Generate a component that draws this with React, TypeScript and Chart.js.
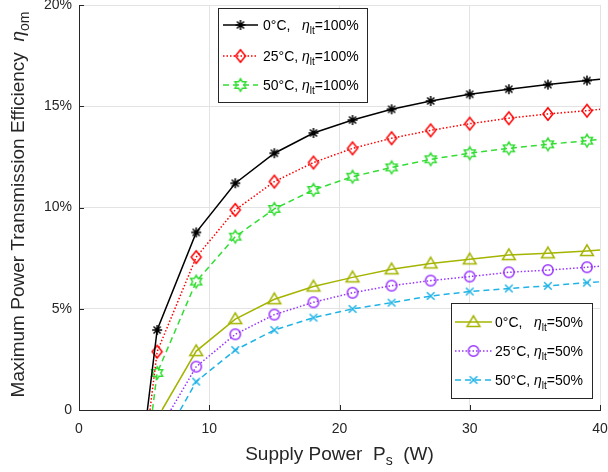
import React, { useEffect, useRef } from 'react';
import { Chart, registerables } from 'chart.js';

Chart.register(...registerables);

const FONT = '"Liberation Sans", Arial, Helvetica, sans-serif';
const INK = '#262626';

// Supply power (W) where the markers sit
const supplyPower = [6, 9, 12, 15, 18, 21, 24, 27, 30, 33, 36, 39];
const xTicks = [0, 10, 20, 30, 40];
const yTicks = [0, 5, 10, 15, 20];
const yTickLabels = ['0', '5%', '10%', '15%', '20%'];

// Maximum power transmission efficiency (%) at the marker supply powers (null = below zero)
const eff0C100 = [3.95, 8.77, 11.2, 12.68, 13.68, 14.32, 14.85, 15.26, 15.59, 15.84, 16.07, 16.27];
const eff25C100 = [2.88, 7.55, 9.88, 11.28, 12.22, 12.92, 13.42, 13.81, 14.14, 14.41, 14.62, 14.78];
const eff50C100 = [1.83, 6.34, 8.56, 9.93, 10.87, 11.52, 11.98, 12.38, 12.68, 12.92, 13.12, 13.3];
const eff0C50 = [null, 2.91, 4.49, 5.47, 6.1, 6.55, 6.95, 7.24, 7.44, 7.65, 7.74, 7.85];
const eff25C50 = [null, 2.14, 3.74, 4.71, 5.32, 5.79, 6.14, 6.39, 6.59, 6.8, 6.91, 7.05];
const eff50C50 = [null, 1.4, 2.96, 3.95, 4.56, 4.99, 5.3, 5.63, 5.85, 6.0, 6.13, 6.29];

// Supply power (W) at which each efficiency curve reaches zero
const cutoff0C100 = 5.25;
const cutoff25C100 = 5.45;
const cutoff50C100 = 5.64;
const cutoff0C50 = 6.37;
const cutoff25C50 = 7.05;
const cutoff50C50 = 7.77;

// Efficiency (%) at the right edge, 40 W
const end0C100 = 16.33;
const end25C100 = 14.85;
const end50C100 = 13.37;
const end0C50 = 7.9;
const end25C50 = 7.1;
const end50C50 = 6.33;

const tempLabels = ['0°C,   ', '25°C, ', '50°C, '];
const etaLabels = ['=100%', '=50%'];

type Kind = 'asterisk' | 'diamond' | 'hexagram' | 'triangle' | 'circle' | 'x';

function makeMarker(kind: Kind, color: string): HTMLCanvasElement {
  const c = document.createElement('canvas');
  c.width = 18;
  c.height = 18;
  const g = c.getContext('2d')!;
  g.translate(9, 9);
  g.strokeStyle = color;
  g.lineWidth = 1.5;
  g.beginPath();
  if (kind === 'asterisk') {
    const r = 5;
    for (let k = 0; k < 4; k++) {
      const a = (k * Math.PI) / 4;
      g.moveTo(-r * Math.cos(a), -r * Math.sin(a));
      g.lineTo(r * Math.cos(a), r * Math.sin(a));
    }
  } else if (kind === 'diamond') {
    g.moveTo(0, -6.3);
    g.lineTo(5, 0);
    g.lineTo(0, 6.3);
    g.lineTo(-5, 0);
    g.closePath();
  } else if (kind === 'hexagram') {
    const R = 6.3;
    const r = R / Math.sqrt(3);
    for (let k = 0; k < 12; k++) {
      const a = -Math.PI / 2 + (k * Math.PI) / 6;
      const rr = k % 2 === 0 ? R : r;
      const px = rr * Math.cos(a);
      const py = rr * Math.sin(a);
      if (k === 0) g.moveTo(px, py);
      else g.lineTo(px, py);
    }
    g.closePath();
  } else if (kind === 'triangle') {
    g.moveTo(0, -6.2);
    g.lineTo(6.4, 4.6);
    g.lineTo(-6.4, 4.6);
    g.closePath();
  } else if (kind === 'circle') {
    g.arc(0, 0, 5.2, 0, Math.PI * 2);
  } else {
    const r = 3.8;
    g.moveTo(-r, -r);
    g.lineTo(r, r);
    g.moveTo(r, -r);
    g.lineTo(-r, r);
  }
  g.stroke();
  return c;
}

function buildPoints(cut: number, vals: (number | null)[], end: number) {
  const pts: { x: number; y: number }[] = [{ x: cut, y: 0 }];
  vals.forEach((v, i) => {
    if (v !== null) pts.push({ x: supplyPower[i], y: v });
  });
  pts.push({ x: 40, y: end });
  return pts;
}

type Part = { t: string; font: string; dy?: number };

function measureRich(ctx: CanvasRenderingContext2D, parts: Part[]) {
  let w = 0;
  for (const p of parts) {
    ctx.font = p.font;
    w += ctx.measureText(p.t).width;
  }
  return w;
}

function drawRich(ctx: CanvasRenderingContext2D, parts: Part[], x: number, y: number) {
  let cx = x;
  for (const p of parts) {
    ctx.font = p.font;
    ctx.fillText(p.t, cx, y + (p.dy || 0));
    cx += ctx.measureText(p.t).width;
  }
}

export default function App() {
  const ref = useRef<HTMLCanvasElement>(null);

  useEffect(() => {
    const series = [
      { label: 0, eta: 0, color: '#000000', dash: [] as number[], kind: 'asterisk' as Kind, data: buildPoints(cutoff0C100, eff0C100, end0C100) },
      { label: 1, eta: 0, color: '#ff0000', dash: [1.5, 2], kind: 'diamond' as Kind, data: buildPoints(cutoff25C100, eff25C100, end25C100) },
      { label: 2, eta: 0, color: '#33dd33', dash: [6, 4], kind: 'hexagram' as Kind, data: buildPoints(cutoff50C100, eff50C100, end50C100) },
      { label: 0, eta: 1, color: '#a4b400', dash: [] as number[], kind: 'triangle' as Kind, data: buildPoints(cutoff0C50, eff0C50, end0C50) },
      { label: 1, eta: 1, color: '#9933ff', dash: [1.5, 2], kind: 'circle' as Kind, data: buildPoints(cutoff25C50, eff25C50, end25C50) },
      { label: 2, eta: 1, color: '#1fb3e6', dash: [6, 4], kind: 'x' as Kind, data: buildPoints(cutoff50C50, eff50C50, end50C50) },
    ].map((s) => ({ ...s, img: makeMarker(s.kind, s.color) }));

    const legendBoxes = [
      { x0: 218, y0: 8, x1: 367, y1: 102, rows: [25, 56, 85], lx0: 223, lx1: 258, tx: 263, items: [0, 1, 2] },
      { x0: 451, y0: 303, x1: 592, y1: 398, rows: [322, 351, 380], lx0: 455, lx1: 492, tx: 495, items: [3, 4, 5] },
    ];

    const overlay = {
      id: 'overlay',
      afterDraw(chart: any) {
        const ctx: CanvasRenderingContext2D = chart.ctx;
        const { left, right, top, bottom } = chart.chartArea;
        const xs = chart.scales.x;
        const ys = chart.scales.y;
        ctx.save();
        // inward tick marks
        ctx.strokeStyle = INK;
        ctx.lineWidth = 1;
        ctx.setLineDash([]);
        for (const v of xTicks) {
          const px = Math.round(xs.getPixelForValue(v)) + 0.5;
          ctx.beginPath();
          ctx.moveTo(px, bottom);
          ctx.lineTo(px, bottom - 5);
          ctx.stroke();
        }
        for (const v of yTicks) {
          const py = Math.round(ys.getPixelForValue(v)) + 0.5;
          ctx.beginPath();
          ctx.moveTo(left, py);
          ctx.lineTo(left + 5, py);
          ctx.stroke();
        }

        // axis titles
        ctx.fillStyle = INK;
        ctx.textBaseline = 'alphabetic';
        ctx.textAlign = 'left';
        const xt: Part[] = [
          { t: 'Supply Power  P', font: `19px ${FONT}` },
          { t: 's', font: `14px ${FONT}`, dy: 5 },
          { t: '  (W)', font: `19px ${FONT}` },
        ];
        const xw = measureRich(ctx, xt);
        drawRich(ctx, xt, (left + right) / 2 - xw / 2, 460);

        const yt: Part[] = [
          { t: 'Maximum Power Transmission Efficiency  ', font: `19px ${FONT}` },
          { t: 'η', font: `italic 19px ${FONT}` },
          { t: 'om', font: `14px ${FONT}`, dy: 5 },
        ];
        const yw = measureRich(ctx, yt);
        ctx.save();
        ctx.translate(24, (top + bottom) / 2 - 3);
        ctx.rotate(-Math.PI / 2);
        drawRich(ctx, yt, -yw / 2, 0);
        ctx.restore();

        // legends
        for (const b of legendBoxes) {
          ctx.fillStyle = '#ffffff';
          ctx.fillRect(b.x0, b.y0, b.x1 - b.x0, b.y1 - b.y0);
          ctx.strokeStyle = INK;
          ctx.lineWidth = 1;
          ctx.setLineDash([]);
          ctx.strokeRect(b.x0 + 0.5, b.y0 + 0.5, b.x1 - b.x0, b.y1 - b.y0);
          b.items.forEach((idx, r) => {
            const s = series[idx];
            const y = b.rows[r];
            ctx.strokeStyle = s.color;
            ctx.lineWidth = 1.5;
            ctx.setLineDash(s.dash);
            ctx.beginPath();
            ctx.moveTo(b.lx0, y);
            ctx.lineTo(b.lx1, y);
            ctx.stroke();
            ctx.setLineDash([]);
            const mx = (b.lx0 + b.lx1) / 2;
            ctx.drawImage(s.img, mx - s.img.width / 2, y - s.img.height / 2);
            ctx.fillStyle = '#000000';
            drawRich(
              ctx,
              [
                { t: tempLabels[s.label], font: `14px ${FONT}` },
                { t: 'η', font: `italic 14px ${FONT}` },
                { t: 'lt', font: `10px ${FONT}`, dy: 4 },
                { t: etaLabels[s.eta], font: `14px ${FONT}` },
              ],
              b.tx,
              y + 5
            );
          });
        }
        ctx.restore();
      },
    };

    const chart = new Chart(ref.current!, {
      type: 'scatter',
      data: {
        datasets: series.map((s) => ({
          data: s.data,
          showLine: true,
          borderColor: s.color,
          borderWidth: 1.5,
          borderDash: s.dash,
          backgroundColor: 'transparent',
          pointStyle: s.img as any,
          pointRadius: (c: any) => (c.dataIndex === 0 || c.dataIndex === s.data.length - 1 ? 0 : 5),
          pointHoverRadius: 0,
          tension: 0,
          clip: 4,
        })),
      },
      options: {
        responsive: false,
        animation: false,
        events: [],
        layout: { padding: 0 },
        plugins: { legend: { display: false }, tooltip: { enabled: false } },
        scales: {
          x: {
            type: 'linear',
            min: 0,
            max: 40,
            afterBuildTicks: (sc: any) => {
              sc.ticks = xTicks.map((v) => ({ value: v }));
            },
            afterFit: (sc: any) => {
              sc.height = 62;
              sc.paddingLeft = 0;
              sc.paddingRight = 8;
            },
            ticks: {
              color: INK,
              font: { family: FONT, size: 14 },
              padding: 11,
              maxRotation: 0,
              callback: (v: any) => String(v),
            },
            grid: { color: '#e3e3e3', lineWidth: 1, drawTicks: false },
            border: { display: true, color: INK, width: 1 },
          },
          y: {
            type: 'linear',
            min: 0,
            max: 20,
            afterBuildTicks: (sc: any) => {
              sc.ticks = yTicks.map((v) => ({ value: v }));
            },
            afterFit: (sc: any) => {
              sc.width = 79;
              sc.paddingTop = 5;
              sc.paddingBottom = 0;
            },
            ticks: {
              color: INK,
              font: { family: FONT, size: 14 },
              padding: 7,
              callback: (v: any) => yTickLabels[yTicks.indexOf(Number(v))],
            },
            grid: { color: '#e3e3e3', lineWidth: 1, drawTicks: false },
            border: { display: true, color: INK, width: 1 },
          },
        },
      },
      plugins: [overlay],
    });
    return () => chart.destroy();
  }, []);

  return (
    <canvas
      ref={ref}
      width={608}
      height={472}
      style={{ position: 'fixed', left: 0, top: 0, width: 608, height: 472, display: 'block', background: '#ffffff' }}
    />
  );
}
